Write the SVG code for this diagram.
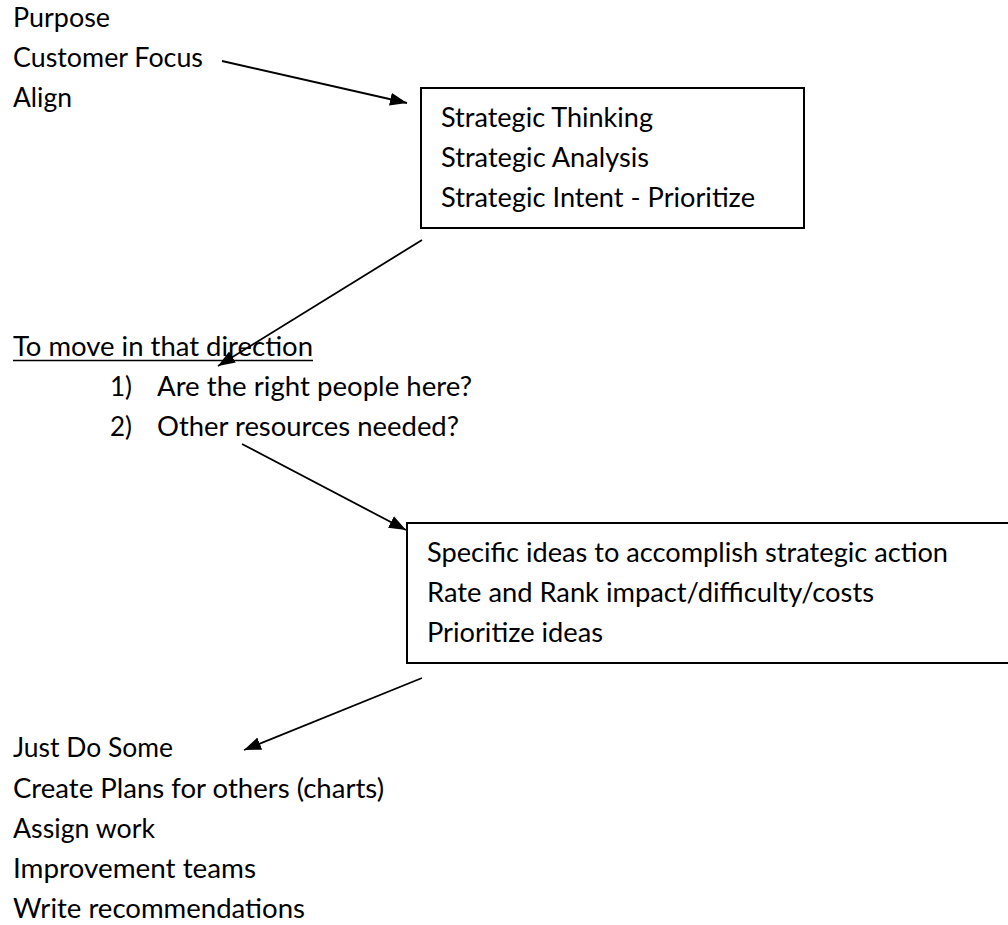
<svg xmlns="http://www.w3.org/2000/svg" width="1008" height="925" viewBox="0 0 1008 925">
<style>
text{font-family:Lato,"Open Sans","Liberation Sans",sans-serif;font-size:26px;fill:#000}
.box{fill:#fff;stroke:#000;stroke-width:2}
.conn line{stroke:#000;stroke-width:1.8;fill:none}
</style>
<defs>
<marker id="ah" markerUnits="userSpaceOnUse" markerWidth="19" markerHeight="14" refX="17" refY="6.5" orient="auto" viewBox="0 0 19 13">
<path d="M0,0 L17,6.5 L0,13 z" fill="#000"/>
</marker>
</defs>
<rect width="1008" height="925" fill="#fff"/>
<g id="n-top">
<text x="13" y="27" textLength="97" lengthAdjust="spacingAndGlyphs">Purpose</text>
<text x="13" y="67" textLength="190" lengthAdjust="spacingAndGlyphs">Customer Focus</text>
<text x="13" y="107" textLength="59" lengthAdjust="spacingAndGlyphs">Align</text>
</g>
<g id="n-strategic">
<rect class="box" x="421" y="88" width="383" height="140"/>
<text x="441" y="127" textLength="212" lengthAdjust="spacingAndGlyphs">Strategic Thinking</text>
<text x="441" y="167" textLength="208" lengthAdjust="spacingAndGlyphs">Strategic Analysis</text>
<text x="441" y="207" textLength="314" lengthAdjust="spacingAndGlyphs">Strategic Intent - Prioritize</text>
</g>
<g id="n-direction">
<text x="13" y="356" textLength="300" lengthAdjust="spacingAndGlyphs">To move in that direction</text>
<line x1="13" y1="360.5" x2="313" y2="360.5" stroke="#000" stroke-width="1.6"/>
<text x="110" y="396">1)</text>
<text x="157" y="396" textLength="315" lengthAdjust="spacingAndGlyphs">Are the right people here?</text>
<text x="110" y="436">2)</text>
<text x="157" y="436" textLength="302" lengthAdjust="spacingAndGlyphs">Other resources needed?</text>
</g>
<g id="n-ideas">
<rect class="box" x="407" y="523" width="640" height="140"/>
<text x="427" y="562" textLength="521" lengthAdjust="spacingAndGlyphs">Specific ideas to accomplish strategic action</text>
<text x="427" y="602" textLength="447" lengthAdjust="spacingAndGlyphs">Rate and Rank impact/difficulty/costs</text>
<text x="427" y="642" textLength="176" lengthAdjust="spacingAndGlyphs">Prioritize ideas</text>
</g>
<g id="n-actions">
<text x="13" y="757" textLength="160" lengthAdjust="spacingAndGlyphs">Just Do Some</text>
<text x="13" y="797.5" textLength="371" lengthAdjust="spacingAndGlyphs">Create Plans for others (charts)</text>
<text x="13" y="838" textLength="142" lengthAdjust="spacingAndGlyphs">Assign work</text>
<text x="13" y="878" textLength="243" lengthAdjust="spacingAndGlyphs">Improvement teams</text>
<text x="13" y="918" textLength="292" lengthAdjust="spacingAndGlyphs">Write recommendations</text>
</g>
<g id="connectors" class="conn">
<line x1="222" y1="61" x2="407" y2="103" marker-end="url(#ah)"/>
<line x1="422" y1="240" x2="218" y2="366" marker-end="url(#ah)"/>
<line x1="242" y1="444" x2="406" y2="530" marker-end="url(#ah)"/>
<line x1="422" y1="678" x2="244" y2="750" marker-end="url(#ah)"/>
</g>
</svg>
